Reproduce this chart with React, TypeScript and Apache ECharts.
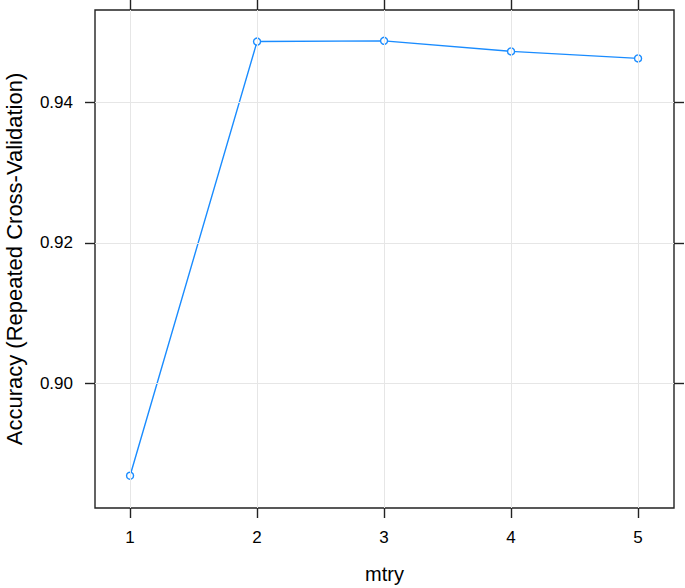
import React, { useEffect, useRef } from "react";
import * as echarts from "echarts";

const mtry = [1, 2, 3, 4, 5];
const accuracy = [0.8868, 0.9487, 0.9488, 0.9473, 0.9463];
const yTicks = [0.9, 0.92, 0.94];
const xTitle = "mtry";
const yTitle = "Accuracy (Repeated Cross-Validation)";

const X_MIN = 0.724;
const X_MAX = 5.283;
const Y_MIN = 0.8822;
const Y_MAX = 0.9532;

const FONT = "'Liberation Sans', Arial, sans-serif";
const BLUE = "#1a8cff";

export default function App() {
  const ref = useRef<HTMLDivElement>(null);
  useEffect(() => {
    if (!ref.current) return;
    const chart = echarts.init(ref.current, undefined, { renderer: "svg" });
    const axisCommon = {
      axisLine: { show: false },
      splitLine: { show: false },
    };
    const tickStyle = { color: "#222", width: 1.4 };
    chart.setOption({
      animation: false,
      backgroundColor: "#ffffff",
      grid: {
        left: 95,
        top: 10,
        right: 11,
        bottom: 80,
        containLabel: false,
        outerBoundsMode: "none",
        show: true,
        borderColor: "#222222",
        borderWidth: 1.4,
        backgroundColor: "transparent",
      },
      xAxis: [
        {
          type: "value",
          position: "bottom",
          min: X_MIN,
          max: X_MAX,
          ...axisCommon,
          name: xTitle,
          nameLocation: "middle",
          nameGap: 56,
          nameTextStyle: { fontFamily: FONT, fontSize: 20, color: "#000" },
          axisTick: { show: true, length: 10, customValues: mtry, lineStyle: tickStyle },
          axisLabel: {
            show: true,
            customValues: mtry,
            margin: 21,
            fontFamily: FONT,
            fontSize: 17,
            color: "#000",
          },
        },
        {
          type: "value",
          position: "top",
          min: X_MIN,
          max: X_MAX,
          ...axisCommon,
          axisTick: { show: true, length: 10, customValues: mtry, lineStyle: tickStyle },
          axisLabel: { show: false, customValues: mtry },
        },
      ],
      yAxis: [
        {
          type: "value",
          position: "left",
          min: Y_MIN,
          max: Y_MAX,
          ...axisCommon,
          name: yTitle,
          nameLocation: "middle",
          nameGap: 70,
          nameTextStyle: { fontFamily: FONT, fontSize: 22, color: "#000" },
          axisTick: { show: true, length: 10, customValues: yTicks, lineStyle: tickStyle },
          axisLabel: {
            show: true,
            customValues: yTicks,
            margin: 22,
            fontFamily: FONT,
            fontSize: 17,
            color: "#000",
            formatter: (v: number) => v.toFixed(2),
          },
        },
        {
          type: "value",
          position: "right",
          min: Y_MIN,
          max: Y_MAX,
          ...axisCommon,
          axisTick: { show: true, length: 10, customValues: yTicks, lineStyle: tickStyle },
          axisLabel: { show: false, customValues: yTicks },
        },
      ],
      series: [
        {
          type: "line",
          data: [],
          z: 1,
          silent: true,
          markLine: {
            silent: true,
            symbol: "none",
            label: { show: false },
            lineStyle: { color: "#e6e6e6", width: 1, type: "solid" },
            data: [
              ...mtry.map((x) => ({ xAxis: x })),
              ...yTicks.map((y) => ({ yAxis: y })),
            ],
          },
        },
        {
          type: "line",
          z: 3,
          data: mtry.map((x, i) => [x, accuracy[i]]),
          lineStyle: { color: BLUE, width: 1.4 },
          itemStyle: { color: "#ffffff", borderColor: BLUE, borderWidth: 1.4 },
          symbol: "circle",
          symbolSize: 7,
          showSymbol: true,
        },
      ],
    });
    return () => chart.dispose();
  }, []);
  return (
    <div
      ref={ref}
      style={{ position: "fixed", left: 0, top: 0, width: 685, height: 588, background: "#fff" }}
    />
  );
}
